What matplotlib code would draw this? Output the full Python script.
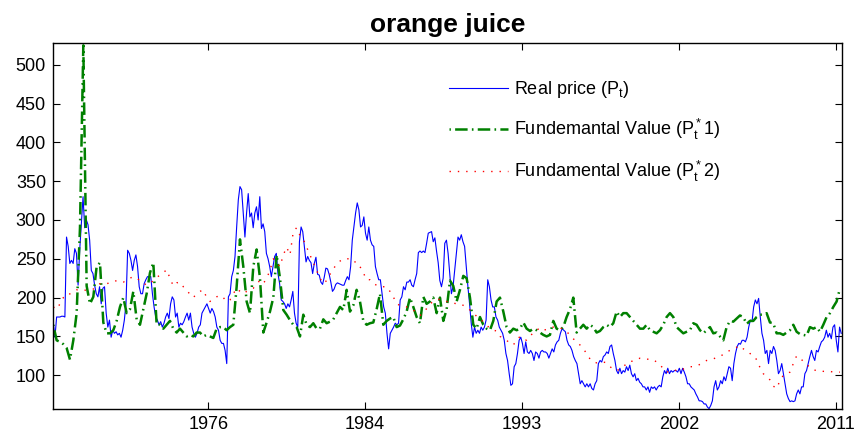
import numpy as np
from matplotlib import pyplot as plt

plt.rcParams["font.family"] = ["Liberation Sans", "DejaVu Sans"]
plt.rcParams["mathtext.fontset"] = "custom"
plt.rcParams["mathtext.rm"] = "Liberation Sans"
plt.rcParams["mathtext.default"] = "regular"

# observation index range of the sample (monthly data, axis tight)
obs_first, obs_last = 1, 504
tick_obs = [100, 200, 300, 400, 500]
tick_years = ["1976", "1984", "1993", "2002", "2011"]

real_price = [
    167, 149, 175, 175, 175, 176, 176, 175, 278, 266, 244, 248, 244, 263, 257, 216, 262, 295, 330, 290,
    300, 294, 274, 235, 231, 216, 205, 201, 214, 192, 212, 214, 180, 162, 171, 149, 158, 154, 156, 152,
    154, 149, 158, 171, 192, 261, 257, 248, 235, 248, 255, 240, 214, 205, 205, 218, 223, 227,
    227, 227, 205, 188, 175, 171, 165, 169, 162, 167, 175, 180, 173, 192, 201, 197, 175, 180, 162, 167,
    165, 169, 175, 180, 171, 180, 162, 154, 149, 154, 162, 165, 180, 184, 188, 192, 186, 180, 186, 182,
    175, 162, 158, 145, 141, 141, 132, 115, 201, 205, 227, 235, 253, 291, 326, 343, 339, 309, 278, 309,
    334, 304, 309, 290, 309, 317, 300, 330, 289, 295, 285, 257, 250, 240, 227, 240, 253, 257, 231, 218,
    197, 195, 192, 186, 192, 188, 197, 208, 180, 167, 162, 272, 291, 285, 266, 246, 253, 248, 245, 231,
    244, 252, 230, 229, 220, 217, 226, 238, 237, 230, 220, 208, 211, 217, 219, 218, 217, 216, 216, 222,
    227, 223, 240, 274, 291, 309, 322, 313, 291, 293, 304, 283, 274, 291, 274, 268, 266, 240, 231, 223,
    223, 205, 188, 180, 154, 134, 154, 158, 162, 167, 165, 167, 197, 201, 214, 210, 220, 220, 223, 216,
    214, 223, 231, 258, 260, 258, 260, 258, 270, 283, 284, 285, 272, 277, 260, 245, 222, 214, 225, 270,
    274, 257, 231, 205, 214, 235, 257, 278, 274, 281, 272, 266, 240, 214, 192, 167, 149, 162, 154, 158,
    154, 162, 158, 162, 171, 223, 214, 197, 188, 188, 175, 171, 162, 158, 154, 145, 128, 119, 102, 87,
    89, 111, 115, 128, 145, 149, 141, 128, 143, 130, 128, 132, 128, 119, 130, 128, 122, 130, 132, 130,
    130, 128, 122, 128, 134, 130, 139, 143, 145, 154, 160, 158, 156, 145, 139, 137, 132, 124, 119, 115,
    102, 89, 93, 89, 85, 89, 85, 89, 83, 81, 89, 93, 115, 119, 117, 124, 126, 130, 128, 137,
    139, 128, 119, 106, 102, 109, 102, 106, 104, 111, 106, 113, 102, 98, 102, 93, 96, 91, 89, 85,
    85, 81, 85, 78, 85, 83, 85, 81, 85, 87, 85, 98, 106, 102, 109, 102, 106, 104, 106, 106,
    104, 109, 102, 109, 104, 98, 89, 89, 85, 83, 81, 76, 72, 67, 67, 66, 63, 63, 59, 57,
    61, 67, 85, 93, 81, 85, 93, 89, 98, 93, 102, 111, 109, 93, 115, 128, 137, 141, 140, 145,
    145, 143, 149, 162, 171, 169, 188, 197, 192, 199, 175, 154, 145, 128, 132, 115, 132, 128, 137, 132,
    119, 102, 106, 115, 102, 89, 76, 70, 66, 67, 66, 67, 76, 81, 76, 85, 85, 102, 106, 115,
    124, 132, 124, 119, 132, 130, 137, 143, 145, 149, 158, 149, 154, 147, 162, 165, 145, 130, 162, 154,
]

fund_value_1 = [
    165, 145, 143, 140, 135, 120, 145, 180, 290, 525, 215, 192, 201, 240, 245, 168, 154, 154, 158, 170,
    188, 200, 180, 185, 208, 172, 165, 185, 205, 232, 245, 165, 165, 160, 165, 170, 160, 155, 160, 155,
    150, 152, 150, 155, 155, 150, 152, 150, 148, 160, 162, 162, 158, 162, 165, 214, 275, 240, 195, 180,
    240, 262, 225, 155, 168, 182, 200, 255, 225, 184, 178, 171, 165, 162, 150, 178, 165, 162, 167, 160,
    160, 172, 167, 169, 172, 180, 188, 184, 210, 182, 190, 210, 195, 170, 165, 167, 168, 185, 205, 165,
    170, 173, 175, 162, 164, 172, 182, 200, 188, 175, 167, 201, 192,
    195, 200, 180, 200, 170, 185, 222, 215, 195, 210, 228, 225, 200, 165, 160, 175, 165, 160, 158, 170,
    195, 200, 182, 162, 155, 160, 158, 160, 168, 160, 157, 160, 158, 155, 152, 150, 152, 170, 160, 158,
    162, 175, 185, 200, 155, 160, 165, 160, 165, 162, 155, 157, 162, 165, 162, 167, 182, 175, 180, 180,
    175, 170, 165, 160, 160, 165, 158, 156, 154, 158, 165, 175, 180, 175, 162, 158, 154, 156, 158, 167,
    165, 158, 154, 158, 162, 154, 155, 150, 145, 162, 170, 169, 173, 177, 175, 166, 170, 170, 175, 178,
    178, 180, 168, 167, 154, 154, 152, 155, 158, 165, 156, 153, 152, 151, 162, 160, 162, 156, 165, 175,
    180, 188, 195, 212,
]

fund_value_2 = [
    188, 185, 192, 200, 200, 205, 207, 210, 210, 209, 210, 210, 211, 214, 218, 217, 218, 219, 220, 222,
    221, 220, 222, 225, 227, 225, 222, 219, 216, 218, 222, 226, 229, 232, 236, 225, 215, 219, 220, 214,
    210, 204, 200, 205, 208, 210, 200, 195, 198, 201, 203, 200, 195, 197, 205, 212, 208, 205, 208, 210,
    212, 218, 222, 218, 225, 235, 250, 245, 240, 255, 265, 255, 285, 290, 280, 275, 265, 255, 245, 235,
    225, 218, 222, 230, 237, 243, 247, 250, 250, 250, 246, 246, 240, 232, 223, 223, 218, 216, 214, 214,
    214, 208, 201, 192, 190, 189, 188, 186, 184, 180, 177, 180, 186,
    192, 195, 197, 198, 196, 195, 194, 193, 192, 192, 190, 188, 184, 180, 176, 172, 169, 164, 161, 158,
    157, 150, 148, 145, 141, 139, 145, 150, 147, 145, 150, 155, 158, 161, 158, 159, 161, 162, 162, 161,
    159, 156, 152, 147, 143, 139, 134, 128, 121, 117, 116, 117, 117, 116, 111, 108, 106, 108, 111, 115,
    118, 118, 120, 122, 122, 121, 120, 120, 117, 114, 108, 104, 105, 105, 107, 109, 108, 110, 111, 111,
    112, 114, 117, 119, 120, 121, 123, 124, 127, 130, 132, 134, 136, 138, 134, 132, 128, 126, 120, 110,
    102, 98, 94, 86, 83, 93, 100, 102, 104, 115, 125, 122, 118, 114, 110, 107, 106, 106, 105, 105,
    105, 104, 104, 104,
]

real_x = np.linspace(1.2, 503.5, len(real_price))
fund_x = np.linspace(1.2, 502.7, len(fund_value_1))

fig = plt.figure(figsize=(8.57, 4.4), dpi=100)
fig.patch.set_facecolor("white")
ax = fig.add_axes([53 / 857, 31 / 440, 789 / 857, 366 / 440])

ax.plot(real_x, real_price, color="#0000ff", linewidth=0.8, label="Real price (P$_t$)")
ax.plot(fund_x, fund_value_1, color="#008000", linewidth=1.8,
        linestyle=(6.8, (5.0, 1.7, 0.65, 1.7)), label="Fundemantal Value (P$_t^*$1)")
ax.plot(fund_x, fund_value_2, color="#ff0000", linewidth=1.0,
        linestyle=(0, (1, 5)), label="Fundamental Value (P$_t^*$2)")

ax.set_xlim(obs_first, obs_last)
ax.set_ylim(56.5, 528)
ax.set_xticks(tick_obs)
ax.set_xticklabels(tick_years)
ax.set_yticks(np.arange(100, 501, 50))
ax.tick_params(direction="in", length=5, width=0.8, top=True, right=True,
               labelsize=13, pad=5, colors="black")
for spine in ax.spines.values():
    spine.set_linewidth(1.0)

ax.set_title("orange juice", fontsize=19, fontweight="bold", pad=8)

ax.legend(loc="upper left", bbox_to_anchor=(0.502, 0.902), frameon=False,
          fontsize=13, handlelength=3.27, handletextpad=0.3, labelspacing=0.95,
          borderaxespad=0, borderpad=0)

plt.savefig("out.png", dpi=100)
plt.close(fig)
